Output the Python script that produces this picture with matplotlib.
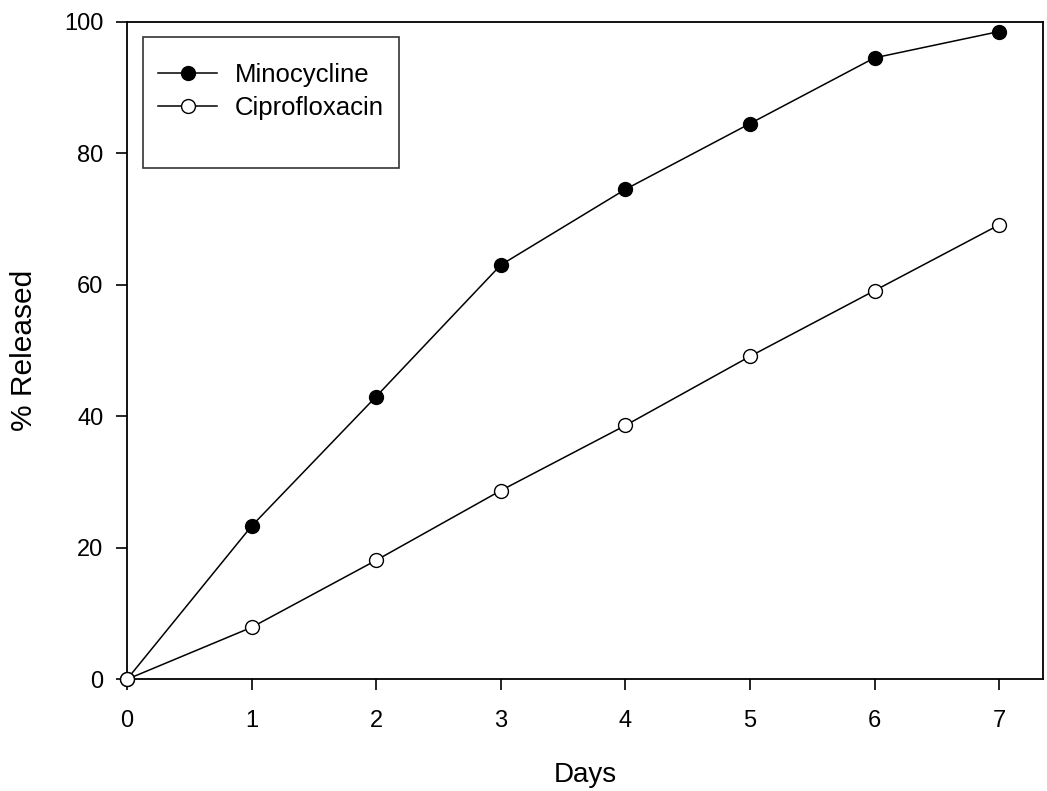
import matplotlib
matplotlib.use("Agg")
import matplotlib.pyplot as plt
from matplotlib.lines import Line2D

plt.rcParams['font.family'] = ['Liberation Sans', 'DejaVu Sans']

days = [0, 1, 2, 3, 4, 5, 6, 7]
minocycline = [0, 23.3, 43.0, 63.0, 74.5, 84.5, 94.5, 98.5]
ciprofloxacin = [0, 7.9, 18.1, 28.7, 38.6, 49.1, 59.1, 69.1]

fig = plt.figure(figsize=(10.47, 7.91), dpi=100)
ax = fig.add_axes([0.1213, 0.1412, 0.8746, 0.8314])

ax.plot(days, minocycline, '-o', color='black', lw=1.1, ms=10,
        mfc='black', mec='black', mew=1, label='Minocycline', clip_on=False)
ax.plot(days, ciprofloxacin, '-o', color='black', lw=1.1, ms=10,
        mfc='white', mec='black', mew=1, label='Ciprofloxacin', clip_on=False, zorder=3)

ax.set_xlim(0, 7.35)
ax.set_ylim(0, 100)
ax.set_xticks(days)
ax.set_yticks([0, 20, 40, 60, 80, 100])
ax.tick_params(direction='out', length=8, width=1.2, labelsize=17)
ax.tick_params(axis='x', pad=14)
ax.tick_params(axis='y', pad=9)
for s in ax.spines.values():
    s.set_linewidth(1.3)

ax.set_xlabel('Days', fontsize=20, labelpad=22)
ax.set_ylabel('% Released', fontsize=21.5, labelpad=19)

# empty third row keeps the blank space at the bottom of the legend box,
# a tiny blank title pushes the rows down a bit
handles, labels = ax.get_legend_handles_labels()
handles.append(Line2D([], [], color='none'))
labels.append(' ')
leg = ax.legend(handles, labels, loc='upper left', bbox_to_anchor=(0.017, 0.976),
                fontsize=18.5, frameon=True, fancybox=False, edgecolor='black',
                handlelength=2.3, handletextpad=0.7, borderpad=0.6,
                labelspacing=0.35, borderaxespad=0, title=' ', title_fontsize=1)
leg.get_frame().set_linewidth(1.2)

fig.savefig('out.png', dpi=100)
